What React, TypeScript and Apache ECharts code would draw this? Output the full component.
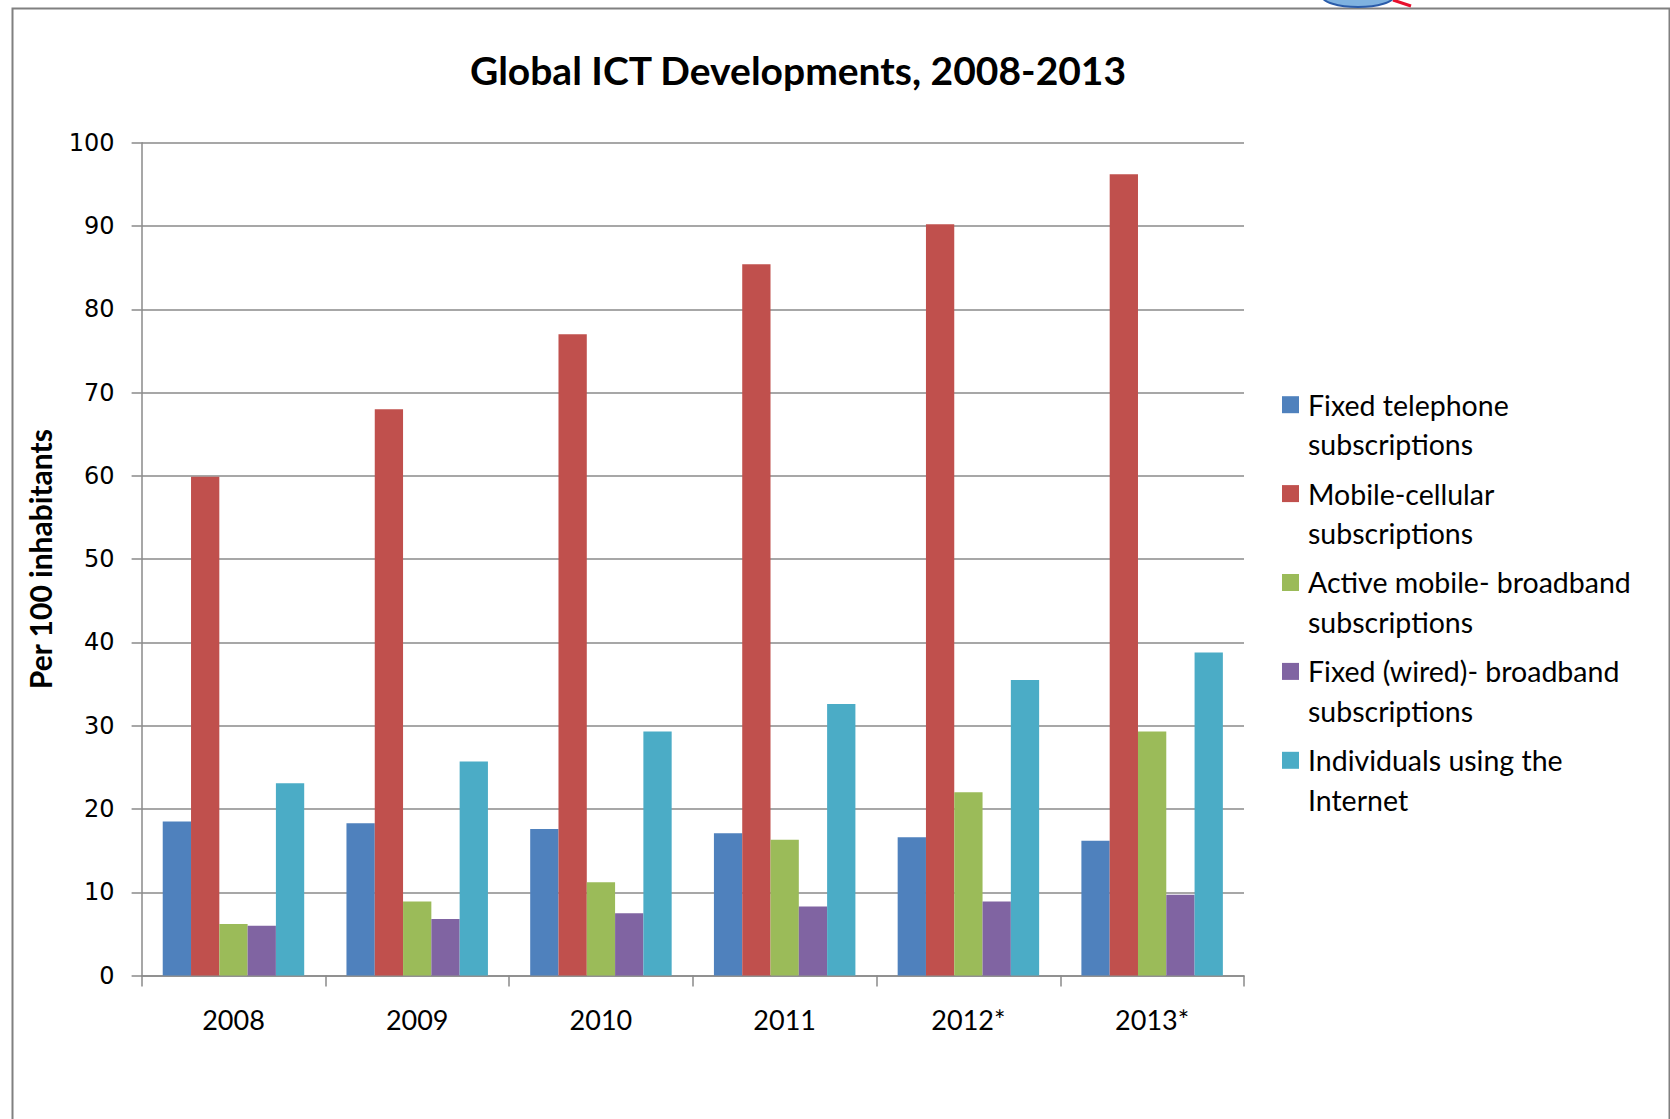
import React, { useEffect, useRef } from "react";
import * as echarts from "echarts";

const titleText = "Global ICT Developments, 2008-2013";
const yAxisTitle = "Per 100 inhabitants";
const categories = ["2008", "2009", "2010", "2011", "2012*", "2013*"];
const seriesNames = [
  "Fixed telephone\nsubscriptions",
  "Mobile-cellular\nsubscriptions",
  "Active mobile- broadband\nsubscriptions",
  "Fixed (wired)- broadband\nsubscriptions",
  "Individuals using the\nInternet",
];
const seriesColors = ["#4F81BD", "#C0504D", "#9BBB59", "#8064A2", "#4BACC6"];
const fixedTelephone = [18.5, 18.3, 17.6, 17.1, 16.6, 16.2];
const mobileCellular = [59.9, 68.0, 77.0, 85.4, 90.2, 96.2];
const mobileBroadband = [6.2, 8.9, 11.2, 16.3, 22.0, 29.3];
const fixedBroadband = [6.0, 6.8, 7.5, 8.3, 8.9, 9.7];
const internetUsers = [23.1, 25.7, 29.3, 32.6, 35.5, 38.8];
const seriesData = [fixedTelephone, mobileCellular, mobileBroadband, fixedBroadband, internetUsers];
const yTicks = [0, 100, 10];

export default function App() {
  const ref = useRef<HTMLDivElement>(null);
  useEffect(() => {
    if (!ref.current) return;
    const chart = echarts.init(ref.current, null, { renderer: "svg" });
    const gridColor = "#8a8a8a";
    const legendFont = "Lato, 'Open Sans', sans-serif";
    const legendGraphics: any[] = [];
    seriesNames.forEach((name, i) => {
      const cy = 404.7 + i * 88.9;
      legendGraphics.push({
        type: "rect",
        left: 1282,
        top: cy - 8.5,
        shape: { width: 17, height: 17 },
        style: { fill: seriesColors[i] },
      });
      legendGraphics.push({
        type: "text",
        x: 1308,
        y: cy - 19.7,
        style: {
          text: name,
          fill: "#000",
          font: `28.5px ${legendFont}`,
          lineHeight: 39.4,
          textVerticalAlign: "top",
        },
      });
    });
    chart.setOption({
      animation: false,
      backgroundColor: "#ffffff",
      title: {
        text: titleText,
        left: 793,
        top: 45,
        textAlign: "center",
        textStyle: { fontFamily: legendFont, fontWeight: "bold", fontSize: 39, color: "#000" },
      },
      grid: { left: 141.6, right: 426, top: 142.7, bottom: 143.4, containLabel: false },
      xAxis: {
        type: "category",
        data: categories,
        axisLine: { lineStyle: { color: gridColor, width: 1.5 } },
        axisTick: { show: true, length: 11, lineStyle: { color: gridColor, width: 1.5 } },
        axisLabel: { margin: 30, fontSize: 27, fontFamily: legendFont, color: "#000" },
      },
      yAxis: {
        type: "value",
        min: yTicks[0],
        max: yTicks[1],
        interval: yTicks[2],
        name: yAxisTitle,
        nameLocation: "middle",
        nameGap: 87,
        nameTextStyle: { fontFamily: legendFont, fontWeight: "bold", fontSize: 30, color: "#000" },
        axisLine: { show: true, lineStyle: { color: gridColor, width: 1.5 } },
        axisTick: { show: true, length: 10, lineStyle: { color: gridColor, width: 1.5 } },
        axisLabel: { margin: 27, fontSize: 24, fontFamily: "'DejaVu Sans', sans-serif", color: "#000" },
        splitLine: { show: true, lineStyle: { color: gridColor, width: 1.5 } },
      },
      series: seriesData.map((d, i) => ({
        type: "bar",
        name: seriesNames[i],
        data: d,
        barGap: "0%",
        barCategoryGap: "23%",
        itemStyle: { color: seriesColors[i] },
      })),
      graphic: [
        {
          type: "rect",
          left: 10,
          top: 6,
          shape: { width: 1657, height: 1200 },
          style: { fill: "none", stroke: "#808080", lineWidth: 2 },
          silent: true,
        },
        {
          type: "ellipse",
          shape: { cx: 1358, cy: -4, rx: 36, ry: 11 },
          style: { fill: "#7fb2e0", stroke: "#2a5caa", lineWidth: 2 },
        },
        {
          type: "line",
          shape: { x1: 1393, y1: 0, x2: 1411, y2: 6 },
          style: { stroke: "#e8102d", lineWidth: 3 },
        },
        ...legendGraphics,
      ],
    });
    return () => chart.dispose();
  }, []);
  return (
    <div
      ref={ref}
      style={{ position: "fixed", left: 0, top: 0, width: 1670, height: 1119 }}
    />
  );
}
